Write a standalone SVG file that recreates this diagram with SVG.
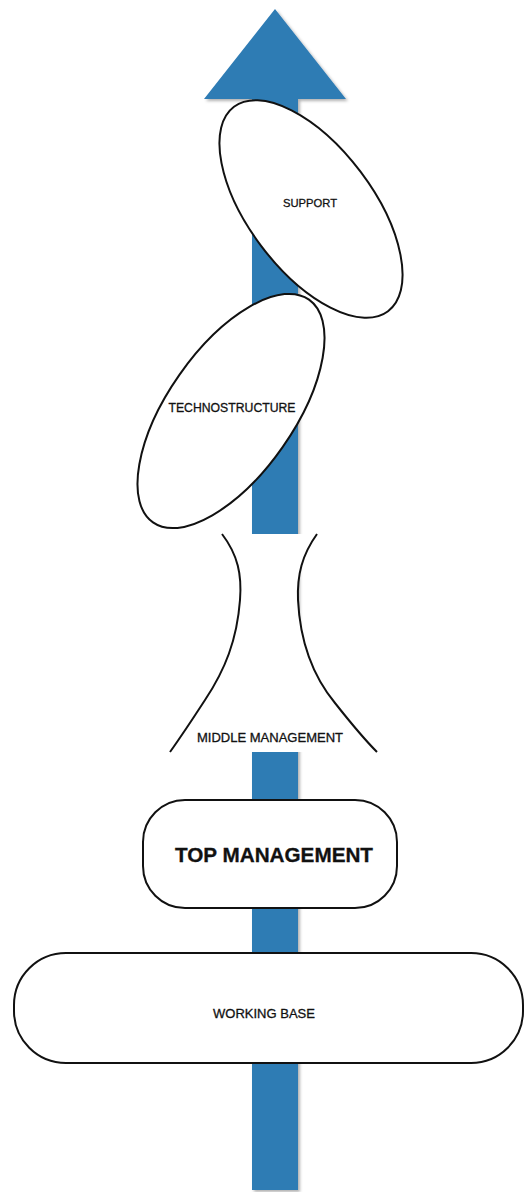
<svg xmlns="http://www.w3.org/2000/svg" width="526" height="1192" viewBox="0 0 526 1192">
<style>
.shape{fill:#fff;stroke:#111;stroke-width:2}
.lbl{font-family:"Liberation Sans",Arial,sans-serif;fill:#111;stroke:#111;stroke-width:0.3;text-anchor:middle}
</style>
<defs>
<filter id="sh" x="-10%" y="-10%" width="130%" height="130%"><feDropShadow dx="2" dy="2" stdDeviation="1.5" flood-color="#000" flood-opacity="0.3"/></filter>
</defs>
<rect width="526" height="1192" fill="#fff"/>
<g id="connectors">
<path d="M252,1190 L252,99 L204,99 L275,9 L346,99 L298,99 L298,1190 Z" fill="#2f7bb4" filter="url(#sh)"/>
</g>
<g id="working-base">
<rect class="shape" x="14" y="953" width="509" height="110" rx="52" ry="52"/>
<text class="lbl" x="264" y="1018" font-size="13">WORKING BASE</text>
</g>
<g id="top-management">
<rect class="shape" x="143" y="800" width="254" height="108" rx="42" ry="42" stroke-width="3"/>
<text class="lbl" x="274" y="862" font-size="20" font-weight="bold" textLength="198" lengthAdjust="spacingAndGlyphs">TOP MANAGEMENT</text>
</g>
<g id="middle-management">
<path d="M222,534 L317,534 C302,555 297,575 298,600 C300,640 312,675 335,703 C350,722 365,740 377,752 L170,752 C180,738 192,720 205,700 C225,670 237,640 240,600 C242,575 238,555 222,534 Z" fill="#fff" stroke="none"/>
<path d="M317,534 C302,555 297,575 298,600 C300,640 312,675 335,703 C350,722 365,740 377,752" fill="none" stroke="#111" stroke-width="2"/>
<path d="M222,534 C238,555 242,575 240,600 C237,640 225,670 205,700 C192,720 180,738 170,752" fill="none" stroke="#111" stroke-width="2"/>
<text class="lbl" x="270" y="742" font-size="12.5" textLength="146" lengthAdjust="spacingAndGlyphs">MIDDLE MANAGEMENT</text>
</g>
<g id="technostructure">
<ellipse class="shape" cx="231" cy="411" rx="136" ry="63" transform="rotate(-55 231 411)"/>
<text class="lbl" x="232" y="412" font-size="12.5" textLength="127" lengthAdjust="spacingAndGlyphs">TECHNOSTRUCTURE</text>
</g>
<g id="support">
<ellipse class="shape" cx="311" cy="209" rx="128" ry="62" transform="rotate(53 311 209)"/>
<text class="lbl" x="310" y="207" font-size="11.5" textLength="54" lengthAdjust="spacingAndGlyphs">SUPPORT</text>
</g>
</svg>
